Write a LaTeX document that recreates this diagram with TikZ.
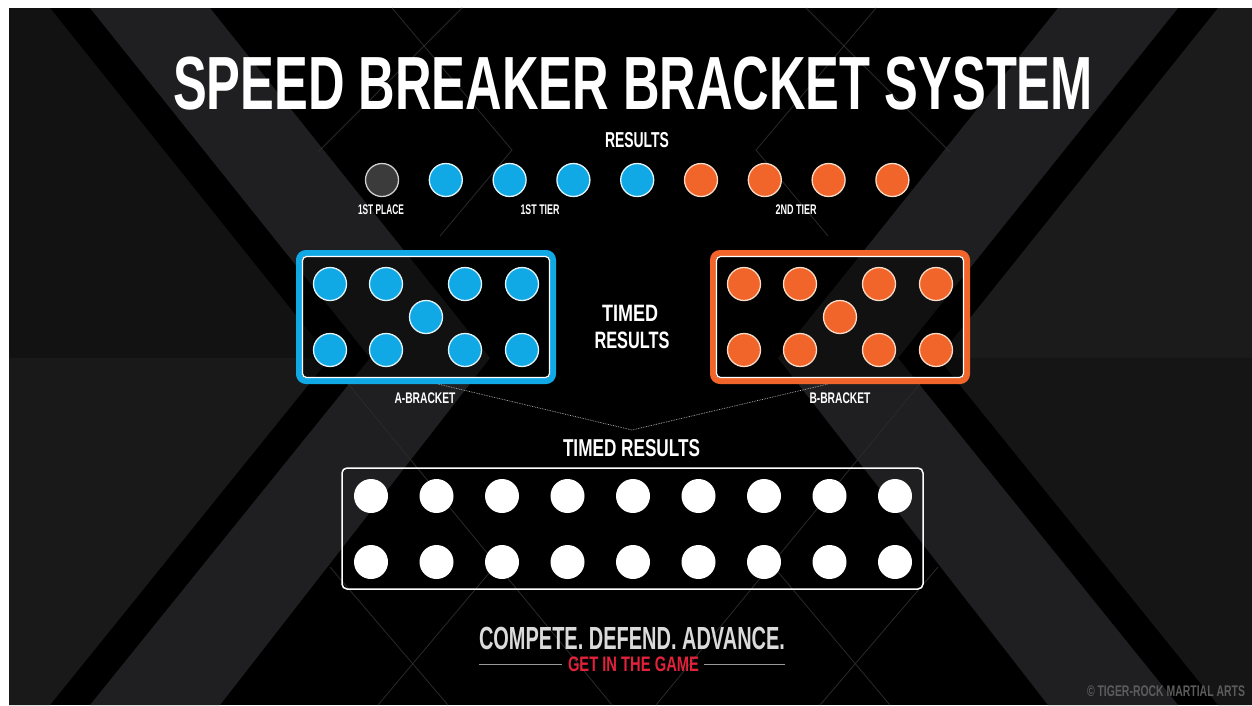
\documentclass[tikz,border=0pt]{standalone}
\usepackage{fontspec}
\setmainfont{Liberation Sans}
\usetikzlibrary{calc}

\definecolor{tierblue}{HTML}{10A9E6}
\definecolor{tierorange}{HTML}{F1652A}
\definecolor{firstgray}{HTML}{3B3B3B}
\definecolor{blueedge}{HTML}{E4F4FB}
\definecolor{orangeedge}{HTML}{F8DCC8}
\definecolor{firstedge}{HTML}{D0D0D0}
\definecolor{bandgray}{HTML}{1F1F21}
\definecolor{outerTL}{HTML}{121212}
\definecolor{outerBL}{HTML}{19191A}
\definecolor{outerTR}{HTML}{1B1B1C}
\definecolor{outerBR}{HTML}{151515}
\definecolor{seamgray}{HTML}{2A2A2A}
\definecolor{gamered}{HTML}{E2223B}
\definecolor{mottogray}{HTML}{DADADA}
\definecolor{creditgray}{HTML}{5C5C5C}

% condensed caps: width (pt), font size (pt), text
\newcommand{\narrowcaps}[3]{\resizebox{#1pt}{\height}{\fontsize{#2}{#2}\selectfont\bfseries #3}}

\tikzset{
  caps/.style={inner sep=0pt, outer sep=0pt, text=white},
  disc/.style={circle, minimum size=33pt, inner sep=0pt, line width=1.3pt},
  bluedot/.style={disc, fill=tierblue, draw=blueedge},
  orangedot/.style={disc, fill=tierorange, draw=orangeedge},
  firstdot/.style={disc, fill=firstgray, draw=firstedge},
  whitedot/.style={disc, minimum size=34pt, fill=white},
  bracketframe/.style={draw=#1, line width=6pt, rounded corners=7pt,
    minimum width=254pt, minimum height=128pt, inner sep=0pt,
    fill=black, fill opacity=0.45},
  bracketrim/.style={draw=white, line width=1.3pt, rounded corners=4pt,
    minimum width=247pt, minimum height=121pt, inner sep=0pt},
  timedbox/.style={draw=white, line width=1.5pt, rounded corners=5pt,
    minimum width=581pt, minimum height=121pt, inner sep=0pt},
  link/.style={draw=white!75!black, line width=0.7pt, densely dotted},
  rule/.style={draw=white!60!black, line width=0.8pt},
  seam/.style={draw=seamgray, line width=0.8pt}
}

\begin{document}
\begin{tikzpicture}[x=1pt, y=-1pt]
  \useasboundingbox (0,0) rectangle (1252,705);
  \fill[white] (0,0) rectangle (1252,705);
  \fill[black] (9,8) rectangle (1252,705);

  % background chevrons, left side and its mirror
  \foreach \sx/\dx/\ctop/\cbot in {1/0/outerTL/outerBL, -1/1268/outerTR/outerBR}{
    \begin{scope}[xshift=\dx pt, xscale=\sx]
      \fill[\ctop] (9,8) -- (50,8) -- (330,358) -- (9,358) -- cycle;
      \fill[\cbot] (9,358) -- (330,358) -- (50,705) -- (9,705) -- cycle;
      \fill[bandgray] (90,8) -- (210,8) -- (490,358) -- (220,705) -- (90,705) -- (370,358) -- cycle;
      \draw[seam] (318,152) -- (462,8);
      \draw[seam] (392,8) -- (512,150) -- (440,236);
      \draw[seam] (345,380) -- (612,705);
      \draw[seam] (330,567) -- (448,705);
      \draw[seam] (378,705) -- (500,560);
    \end{scope}
  }

  % title
  \node[caps] (title) at (633,84) {\narrowcaps{920}{75.4}{SPEED BREAKER BRACKET SYSTEM}};
  \node[caps] (results) at (637,140) {\narrowcaps{64}{21.6}{RESULTS}};

  % results row
  \node[firstdot] (r0) at (382,180) {};
  \foreach \i in {1,...,4}
    \node[bluedot] (r\i) at ({382+63.8*\i},180) {};
  \foreach \i in {5,...,8}
    \node[orangedot] (r\i) at ({382+63.8*\i},180) {};

  \node[caps] (place) at (381,210) {\narrowcaps{46}{14}{1ST PLACE}};
  \node[caps] (tierone) at (540,210) {\narrowcaps{39}{14}{1ST TIER}};
  \node[caps] (tiertwo) at (796,210) {\narrowcaps{41}{14}{2ND TIER}};

  % brackets
  \node[bracketframe=tierblue] (abracket) at (426,317) {};
  \node[bracketrim] (arim) at (abracket) {};
  \node[bracketframe=tierorange] (bbracket) at (840,317) {};
  \node[bracketrim] (brim) at (bbracket) {};

  \foreach \dx [count=\k] in {-96,-40,39,96}{
    \node[bluedot] (atop\k) at ($(abracket)+(\dx,-33)$) {};
    \node[bluedot] (abot\k) at ($(abracket)+(\dx,33)$) {};
    \node[orangedot] (btop\k) at ($(bbracket)+(\dx,-33)$) {};
    \node[orangedot] (bbot\k) at ($(bbracket)+(\dx,33)$) {};
  }
  \node[bluedot] (amid) at (abracket) {};
  \node[orangedot] (bmid) at (bbracket) {};

  \node[caps] (timedA) at (630,313.5) {\narrowcaps{56}{23.7}{TIMED}};
  \node[caps] (timedB) at (632,340) {\narrowcaps{75}{23.7}{RESULTS}};

  \node[caps] (alabel) at (425,398.5) {\narrowcaps{61}{15.4}{A-BRACKET}};
  \node[caps] (blabel) at (840,398.5) {\narrowcaps{61}{15.4}{B-BRACKET}};

  % merge into the timed results
  \coordinate (merge) at (632,430);
  \draw[link] (abracket.-80) -- (merge) -- (bbracket.-100);

  \node[caps] (timed) at (631.5,448.5) {\narrowcaps{137}{24.4}{TIMED RESULTS}};
  \node[timedbox] (tbox) at (632.5,528.5) {};
  \foreach \i in {0,...,8}{
    \node[whitedot] (tt\i) at ({371+65.5*\i},496) {};
    \node[whitedot] (tb\i) at ({371+65.5*\i},562) {};
  }

  % footer
  \node[caps, text=mottogray] (motto) at (632,638.5) {\narrowcaps{306}{32}{COMPETE. DEFEND. ADVANCE.}};
  \node[caps, text=gamered] (game) at (633.5,664.5) {\narrowcaps{131}{21}{GET IN THE GAME}};
  \draw[rule] (motto.west |- game.west) -- ($(game.west)+(-6,0)$);
  \draw[rule] ($(game.east)+(5,0)$) -- (motto.east |- game.east);

  \node[caps, text=creditgray] (credit) at (1166,691.5) {\narrowcaps{158}{15.4}{© TIGER-ROCK MARTIAL ARTS}};
\end{tikzpicture}
\end{document}
